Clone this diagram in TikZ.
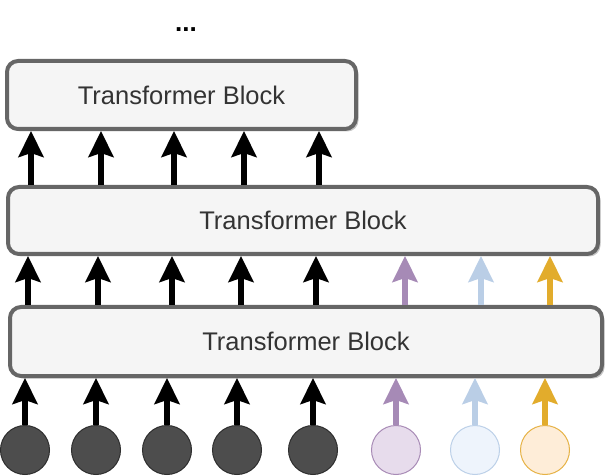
\documentclass[tikz,border=0pt]{standalone}
\usepackage{fontspec}
\setmainfont{Liberation Sans}
\usetikzlibrary{arrows.meta,shadows}
\definecolor{blockline}{HTML}{666666}
\definecolor{blockfill}{HTML}{F5F5F5}
\definecolor{textcol}{HTML}{333333}
\definecolor{darkfill}{HTML}{4D4D4D}
\definecolor{darkline}{HTML}{2E2E2E}
\definecolor{purparrow}{HTML}{A68AB6}
\definecolor{bluearrow}{HTML}{BACEE6}
\definecolor{goldarrow}{HTML}{E2AC2C}
\definecolor{purpfill}{HTML}{E7DCEC}
\definecolor{purpline}{HTML}{A88BB6}
\definecolor{bluefill}{HTML}{EEF4FC}
\definecolor{blueline}{HTML}{BCD0E8}
\definecolor{goldfill}{HTML}{FEEDD8}
\definecolor{goldline}{HTML}{E6B245}
\begin{document}
\begin{tikzpicture}[x=1pt,y=-1pt,
  block/.style={draw=blockline, line width=4pt, fill=blockfill, rounded corners=11pt,
    drop shadow={shadow xshift=2.5pt, shadow yshift=-2.5pt, fill=black, opacity=0.22},
    text=textcol, font=\fontsize{25.5}{30}\selectfont, inner sep=0pt},
  tok/.style={circle, minimum size=49pt, inner sep=0pt, line width=1pt},
  up/.style={line width=5.5pt, -{Stealth[length=26pt, width=25pt, inset=4pt]}},
]
\useasboundingbox (0,0) rectangle (606,476);

\node[block, minimum width=349pt, minimum height=68pt] (topb) at (181.5,95) {Transformer Block};
\node[block, minimum width=590pt, minimum height=67pt] (midb) at (303,220.5) {Transformer Block};
\node[block, minimum width=592pt, minimum height=69pt] (botb) at (306,341.5) {Transformer Block};

\node[anchor=base, font=\fontsize{26}{30}\selectfont\bfseries, inner sep=0pt] (dots) at (186,32) {...};

% tokens
\foreach \i/\x in {1/25,2/96,3/167,4/237,5/313}
  \node[tok, draw=darkline, fill=darkfill] (c\i) at (\x,450) {};
\node[tok, draw=purpline, fill=purpfill] (c6) at (396,450) {};
\node[tok, draw=blueline, fill=bluefill] (c7) at (475,450) {};
\node[tok, draw=goldline, fill=goldfill] (c8) at (545,450) {};

% bottom row arrows
\foreach \i in {1,...,5}
  \draw[up, black] (c\i.north) -- (c\i.north |- botb.south);
\draw[up, purparrow] (c6.north) -- (c6.north |- botb.south);
\draw[up, bluearrow] (c7.north) -- (c7.north |- botb.south);
\draw[up, goldarrow] (c8.north) -- (c8.north |- botb.south);

% middle row arrows
\foreach \i/\x in {1/28,2/98,3/172,4/241,5/316,6/405,7/481,8/550}
  \coordinate (m\i) at (\x,0);
\foreach \i in {1,...,5}
  \draw[up, black] (botb.north -| m\i) -- (midb.south -| m\i);
\draw[up, purparrow] (botb.north -| m6) -- (midb.south -| m6);
\draw[up, bluearrow] (botb.north -| m7) -- (midb.south -| m7);
\draw[up, goldarrow] (botb.north -| m8) -- (midb.south -| m8);

% top row arrows
\foreach \i/\x in {1/31,2/101,3/174,4/244,5/319}
  \coordinate (t\i) at (\x,0);
\foreach \i in {1,...,5}
  \draw[up, black] (midb.north -| t\i) -- (topb.south -| t\i);
\end{tikzpicture}
\end{document}
